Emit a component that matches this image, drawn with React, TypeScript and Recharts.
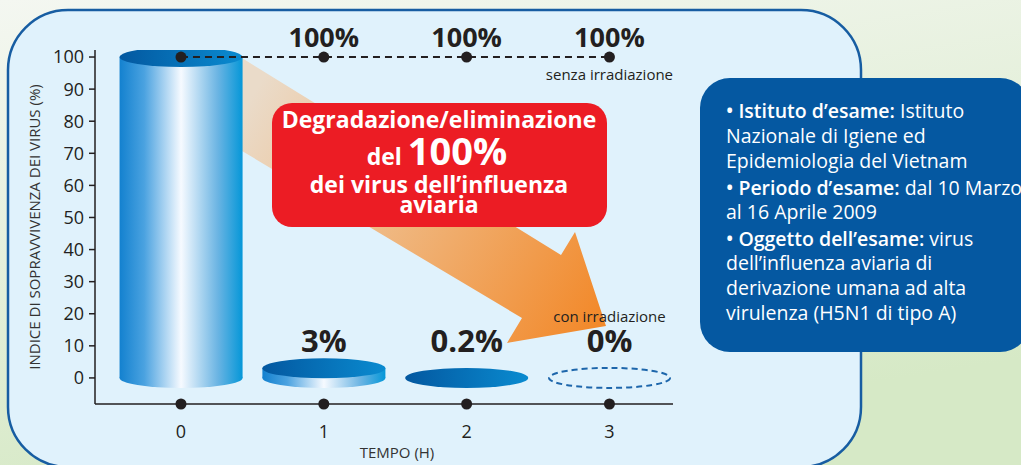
import React from 'react';
import { ComposedChart, Bar, Line, XAxis, YAxis, LabelList } from 'recharts';

// --- data ---
const hours = [0, 1, 2, 3];
const withIrradiation = [100, 3, 0.2, 0];
const withoutIrradiation = [100, 100, 100, 100];
const yTicks = [0, 10, 20, 30, 40, 50, 60, 70, 80, 90, 100];

const chartData = hours.map((h, i) => ({
  hour: h,
  irradiated: withIrradiation[i],
  control: withoutIrradiation[i],
}));

const FONT = '"Open Sans", "Noto Sans", sans-serif';
const INK = '#231f20';

const infoLines = [
  { bold: '\u2022 Istituto d\u2019esame:', text: ' Istituto' },
  { text: 'Nazionale di Igiene ed' },
  { text: 'Epidemiologia del Vietnam' },
  { bold: '\u2022 Periodo d\u2019esame:', text: ' dal 10 Marzo' },
  { text: 'al 16 Aprile 2009' },
  { bold: '\u2022 Oggetto dell\u2019esame:', text: ' virus' },
  { text: 'dell\u2019influenza aviaria di' },
  { text: 'derivazione umana ad alta' },
  { text: 'virulenza (H5N1 di tipo A)' },
];
const infoBaselines = [118, 143, 168, 195, 219, 246, 270, 295, 320];

const Cylinder = (props: any) => {
  const { x, y, width, height, payload } = props;
  const cx = x + width / 2;
  const rx = width / 2;
  const ry = 10;
  const base = y + height;
  if (payload.irradiated === 0) {
    return (
      <ellipse cx={cx} cy={base} rx={rx - 1} ry={ry} fill="none" stroke="#1d66ab"
        strokeWidth={2} strokeDasharray="6 4" />
    );
  }
  if (height < 3) {
    return <ellipse cx={cx} cy={base} rx={rx} ry={ry} fill="url(#capGrad)" />;
  }
  return (
    <g>
      <ellipse cx={cx} cy={base} rx={rx} ry={ry} fill="url(#bodyGrad)" />
      <rect x={x} y={y} width={width} height={height} fill="url(#bodyGrad)" />
      <ellipse cx={cx} cy={y} rx={rx} ry={ry} fill="url(#capGrad)" />
    </g>
  );
};

const HourTick = (props: any) => {
  const { x, y, payload } = props;
  return (
    <g>
      <circle cx={x} cy={y} r={5.5} fill={INK} />
      <text x={x} y={y + 34} textAnchor="middle" fontSize={18} fill={INK} fontFamily={FONT}>
        {payload.value}
      </text>
    </g>
  );
};

const renderControlLabel = (props: any) => {
  const { x, y, value, index } = props;
  return (
    <g>
      {index > 0 && (
        <text x={x} y={y - 10} textAnchor="middle" fontSize={27} fontWeight={700} fill={INK} fontFamily={FONT}>
          {`${value}%`}
        </text>
      )}
      {index === hours.length - 1 && (
        <text x={x} y={y + 23} textAnchor="middle" fontSize={15} fill={INK} fontFamily={FONT}>
          senza irradiazione
        </text>
      )}
    </g>
  );
};

const renderIrradiatedLabel = (props: any) => {
  const { x, y, width, height, value, index } = props;
  if (index === 0) return null;
  const cx = x + width / 2;
  const base = y + height;
  return (
    <g>
      <text x={cx} y={base - 26} textAnchor="middle" fontSize={31} fontWeight={700} fill={INK} fontFamily={FONT}>
        {`${value}%`}
      </text>
      {index === hours.length - 1 && (
        <text x={cx} y={base - 56} textAnchor="middle" fontSize={15} fill={INK} fontFamily={FONT}>
          con irradiazione
        </text>
      )}
    </g>
  );
};

const renderYLabel = (props: any) => {
  const vb = props.viewBox;
  const lx = vb.x + 34;
  const ly = vb.y + vb.height / 2;
  return (
    <text x={lx} y={ly} transform={`rotate(-90 ${lx} ${ly})`} textAnchor="middle" dominantBaseline="central"
      fontSize={15} fill="#333" fontFamily={FONT}>
      INDICE DI SOPRAVVIVENZA DEI VIRUS (%)
    </text>
  );
};

const renderXLabel = (props: any) => {
  const vb = props.viewBox;
  return (
    <text x={vb.x + vb.width / 2 + 13} y={vb.y + 54} textAnchor="middle" fontSize={15} fill="#333" fontFamily={FONT}>
      TEMPO (H)
    </text>
  );
};

export default function App() {
  return (
    <div style={{ position: 'absolute', left: 0, top: 0, width: 1021, height: 465, overflow: 'hidden', fontFamily: FONT }}>
      {/* backdrop, arrow, callouts */}
      <svg width={1021} height={465} style={{ position: 'absolute', left: 0, top: 0 }}>
        <defs>
          <linearGradient id="bgGrad" x1="0" y1="0" x2="0.35" y2="1">
            <stop offset="0" stopColor="#f4f7f1" />
            <stop offset="1" stopColor="#d6e9c6" />
          </linearGradient>
          <linearGradient id="arrowGrad" gradientUnits="userSpaceOnUse" x1={250} y1={100} x2={600} y2={310}>
            <stop offset="0" stopColor="#eadbc9" />
            <stop offset="0.4" stopColor="#efbc89" />
            <stop offset="1" stopColor="#f28a2c" />
          </linearGradient>
        </defs>
        <rect x={0} y={0} width={1021} height={465} fill="url(#bgGrad)" />
        <rect x={8} y={10} width={853} height={457} rx={60} fill="#e0f2fc" stroke="#175da2" strokeWidth={2.5} />
        <polygon points="242,58 561,255 575,232 606,326 507,343 522,318 242,151" fill="url(#arrowGrad)" />
        <rect x={272} y={103} width={335} height={124} rx={20} fill="#ec1c24" />
        <g fill="#fff" fontWeight={700} fontFamily={FONT} textAnchor="middle">
          <text x={439} y={128} fontSize={23}>Degradazione/eliminazione</text>
          <text x={437} y={165}>
            <tspan fontSize={23}>del </tspan>
            <tspan fontSize={38}>100%</tspan>
          </text>
          <text x={439} y={193} fontSize={23}>dei virus dell’influenza</text>
          <text x={439} y={213} fontSize={23}>aviaria</text>
        </g>
        <rect x={700} y={78} width={330} height={274} rx={30} fill="#0558a1" />
        <g fill="#fff" fontFamily={FONT} fontSize={19.5}>
          {infoLines.map((ln, i) => (
            <text key={i} x={726} y={infoBaselines[i]}>
              {ln.bold && <tspan fontWeight={600}>{ln.bold}</tspan>}
              <tspan>{ln.text}</tspan>
            </text>
          ))}
        </g>
      </svg>

      <div style={{ position: 'absolute', left: 0, top: 0 }}>
        <ComposedChart width={1021} height={465} data={chartData}
          margin={{ top: 50, right: 348, bottom: 0, left: 0 }} style={{ fontFamily: FONT }}>
          <defs>
            <linearGradient id="bodyGrad" x1="0" y1="0" x2="1" y2="0">
              <stop offset="0" stopColor="#1381cf" />
              <stop offset="0.2" stopColor="#4aa2e0" />
              <stop offset="0.5" stopColor="#f6faff" />
              <stop offset="0.8" stopColor="#6ab4e3" />
              <stop offset="1" stopColor="#0597d8" />
            </linearGradient>
            <linearGradient id="capGrad" x1="0" y1="0" x2="1" y2="0">
              <stop offset="0" stopColor="#0358a0" />
              <stop offset="1" stopColor="#0a8bd0" />
            </linearGradient>
          </defs>
          <XAxis dataKey="hour" type="number" domain={[-0.602, 3.445]} ticks={hours} allowDataOverflow
            height={61} tickSize={0} tickMargin={0} tickLine={false}
            axisLine={{ stroke: INK, strokeWidth: 1.5 }} tick={<HourTick />} interval={0}
            label={renderXLabel} />
          <YAxis type="number" domain={[-8.125, 102.19]} ticks={yTicks} allowDataOverflow width={95}
            tickSize={6} tickMargin={5} interval={0}
            axisLine={{ stroke: INK, strokeWidth: 1.5 }} tickLine={{ stroke: INK, strokeWidth: 1.5 }}
            tick={{ fontSize: 18, fill: INK, fontFamily: FONT }}
            label={renderYLabel} />
          <Bar dataKey="irradiated" barSize={123} shape={<Cylinder />} isAnimationActive={false}>
            <LabelList dataKey="irradiated" content={renderIrradiatedLabel} />
          </Bar>
          <Line dataKey="control" stroke={INK} strokeWidth={2} strokeDasharray="7 5"
            dot={{ r: 5.5, fill: INK, stroke: INK, strokeWidth: 0 }} activeDot={false}
            isAnimationActive={false}>
            <LabelList dataKey="control" content={renderControlLabel} />
          </Line>
        </ComposedChart>
      </div>
    </div>
  );
}
